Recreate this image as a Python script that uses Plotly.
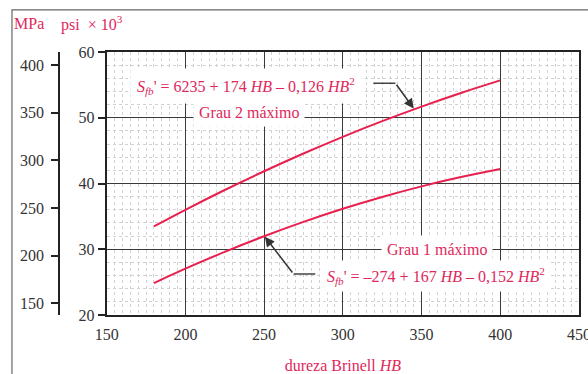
import plotly.graph_objects as go

# Data (kpsi)
hb = [180, 200, 225, 250, 275, 300, 325, 350, 375, 400]
grau1 = [24.86, 27.05, 29.61, 31.98, 34.16, 36.15, 37.95, 39.56, 40.98, 42.21]
grau2 = [33.47, 36.00, 39.01, 41.86, 44.56, 47.10, 49.48, 51.70, 53.77, 55.68]

x_ticks = [150, 200, 250, 300, 350, 400, 450]
psi_ticks = [20, 30, 40, 50, 60]
mpa_ticks = [150, 200, 250, 300, 350, 400]
PSI_TO_MPA = 6.894757

RED = "#e8204e"
TXT_RED = "#e0285c"
DARK = "#222222"
FONT = "Liberation Serif"

fig = go.Figure()
for ys in (grau1, grau2):
    fig.add_trace(go.Scatter(x=hb, y=ys, mode="lines", line=dict(color=RED, width=2, shape="spline"),
                             showlegend=False, hoverinfo="skip"))
# invisible trace for the MPa axis
fig.add_trace(go.Scatter(x=[300], y=[300], yaxis="y2", mode="markers", marker=dict(opacity=0),
                         showlegend=False, hoverinfo="skip"))

fig.update_layout(
    width=588, height=374,
    margin=dict(l=40, r=9, t=52, b=59),
    paper_bgcolor="white", plot_bgcolor="white",
    font=dict(family=FONT, size=16, color="#333333"),
    xaxis=dict(domain=[0.1237, 1], range=[150, 450], tickvals=x_ticks,
               showgrid=True, gridcolor="#3a3a3a", gridwidth=1.2,
               minor=dict(dtick=5, showgrid=True, gridcolor="#d2d2d2", griddash="dot", gridwidth=1),
               showline=True, mirror=True, linecolor=DARK, linewidth=2,
               ticks="", zeroline=False, fixedrange=True, ticklabelstandoff=4, automargin=False,
               ticklabeloverflow="allow",
               title=dict(text="dureza Brinell <i>HB</i>", font=dict(color=TXT_RED, size=16), standoff=22)),
    yaxis=dict(range=[20, 60], tickvals=psi_ticks,
               showgrid=True, gridcolor="#3a3a3a", gridwidth=1.2,
               minor=dict(dtick=2, showgrid=True, gridcolor="#d2d2d2", griddash="dot", gridwidth=1),
               showline=True, mirror=True, linecolor=DARK, linewidth=2,
               ticks="outside", ticklen=7, tickwidth=2, tickcolor=DARK, automargin=False,
               zeroline=False, fixedrange=True),
    yaxis2=dict(range=[20 * PSI_TO_MPA, 60 * PSI_TO_MPA], tickvals=mpa_ticks,
                overlaying="y", anchor="free", position=0.0358, side="left",
                showline=True, linecolor=DARK, linewidth=2, automargin=False,
                ticks="outside", ticklen=7, tickwidth=2, tickcolor=DARK, ticklabelstandoff=4,
                showgrid=False, zeroline=False, fixedrange=True),
)

# outer frame
fig.add_shape(type="rect", xref="paper", yref="paper", x0=-0.052, y0=-0.35, x1=1.2, y1=1.16,
              line=dict(color="#666666", width=1.2), layer="above")

# header
fig.add_annotation(xref="paper", yref="paper", x=-0.0515, y=1.11, xanchor="left", yanchor="middle",
                   text="MPa", showarrow=False, font=dict(color=TXT_RED, size=16))
fig.add_annotation(xref="paper", yref="paper", x=0.035, y=1.11, xanchor="left", yanchor="middle",
                   text="psi  × 10<sup>3</sup>", showarrow=False, font=dict(color=TXT_RED, size=16))

# labels with white boxes
fig.add_annotation(x=238.6, y=54.9, text="<i>S</i><sub><i>fb</i></sub>' = 6235 + 174 <i>HB</i> – 0,126 <i>HB</i><sup>2</sup>",
                   showarrow=False, bgcolor="white", borderpad=6, font=dict(color=TXT_RED, size=16))
fig.add_annotation(x=240.5, y=50.8, text="Grau 2 máximo", showarrow=False, bgcolor="white",
                   borderpad=5, font=dict(color=TXT_RED, size=16))
fig.add_annotation(x=360, y=30.0, text="Grau 1 máximo", showarrow=False, bgcolor="white",
                   borderpad=5, font=dict(color=TXT_RED, size=16))
fig.add_annotation(x=286.8, y=26.0, xanchor="left", text="<i>S</i><sub><i>fb</i></sub>' = –274 + 167 <i>HB</i> – 0,152 <i>HB</i><sup>2</sup>",
                   showarrow=False, bgcolor="white", borderpad=4, font=dict(color=TXT_RED, size=16))

# leader lines
fig.add_shape(type="path", path="M 319.4 55.25 L 333.4 55.25", line=dict(color="#444444", width=1.5))
fig.add_annotation(x=345, y=51.4, ax=333.4, ay=55.25, axref="x", ayref="y", text="", showarrow=True,
                   arrowhead=2, arrowsize=1.3, arrowwidth=1.5, arrowcolor="#333333")
fig.add_shape(type="path", path="M 282.5 26.24 L 268.7 26.24", line=dict(color="#444444", width=1.5))
fig.add_annotation(x=250.5, y=31.9, ax=268.7, ay=26.24, axref="x", ayref="y", text="", showarrow=True,
                   arrowhead=2, arrowsize=1.3, arrowwidth=1.5, arrowcolor="#333333")

fig.write_html("out.html")
